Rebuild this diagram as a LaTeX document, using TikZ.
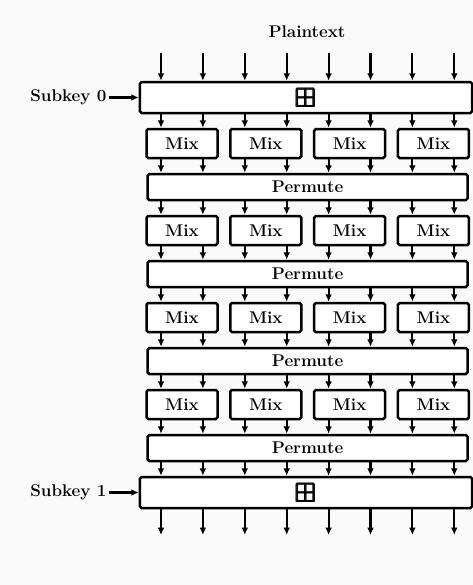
\documentclass[tikz,border=0pt]{standalone}
\usepackage{amsmath}
\usepackage{amssymb}
\usetikzlibrary{arrows.meta, positioning}
\usepackage{xcolor}

\begin{document}
\begin{tikzpicture}[x=0.3mm, y=-0.3mm, font={\fontsize{14.5}{17}\selectfont\bfseries},
    blk/.style={draw, line width=0.75mm, fill=white, rounded corners=0.5mm, inner sep=0pt},
    keybox/.style={blk, minimum width=99.6mm, minimum height=9.3mm},
    mixbox/.style={blk, minimum width=21.3mm, minimum height=8.7mm},
    permbox/.style={blk, minimum width=96mm, minimum height=7.8mm},
    wire/.style={line width=0.65mm, -{Latex[length=2.2mm, width=2mm]}}]
    \fill[gray!4] (0,0) rectangle (473,585);
    \useasboundingbox (0,0) rectangle (473,585);
    \node (plain) at (307, 32) {Plaintext};
    \node[keybox] (key0) at (306, 97.5) {\fontsize{23}{23}\selectfont$\pmb{\boxplus}$};
    \node[keybox] (key1) at (306, 492.5) {\fontsize{23}{23}\selectfont$\pmb{\boxplus}$};
    \node[anchor=east, inner sep=2pt] (sk0) at (109, 97.5) {Subkey 0};
    \node[anchor=east, inner sep=2pt] (sk1) at (109, 492.5) {Subkey 1};
    \draw[wire] (sk0.east) -- (key0.west);
    \draw[wire] (sk1.east) -- (key1.west);
    % rounds: mix row, then permutation
    \foreach \r in {1,...,4} {
      \foreach \j in {1,...,4}
        \node[mixbox] (m\r\j) at ({182+83.8*(\j-1)}, {143.5+87*(\r-1)}) {Mix};
      \node[permbox] (p\r) at (307.6, {187+87*(\r-1)}) {Permute};
    }
    % eight wires
    \foreach \k in {1,...,8} {
      \coordinate (c\k) at ({161+41.9*(\k-1)}, 0);
      \coordinate (in\k) at ({161+41.9*(\k-1)}, 53);
      \coordinate (out\k) at ({161+41.9*(\k-1)}, 535);
    }
    \foreach \k/\j in {1/1,2/1,3/2,4/2,5/3,6/3,7/4,8/4} {
      \draw[wire] (in\k) -- (key0.north -| c\k);
      \draw[wire] (key0.south -| c\k) -- (m1\j.north -| c\k);
      \foreach \r in {1,...,4}
        \draw[wire] (m\r\j.south -| c\k) -- (p\r.north -| c\k);
      \foreach \r/\s in {1/2,2/3,3/4}
        \draw[wire] (p\r.south -| c\k) -- (m\s\j.north -| c\k);
      \draw[wire] (p4.south -| c\k) -- (key1.north -| c\k);
      \draw[wire] (key1.south -| c\k) -- (out\k);
    }
\end{tikzpicture}
\end{document}
